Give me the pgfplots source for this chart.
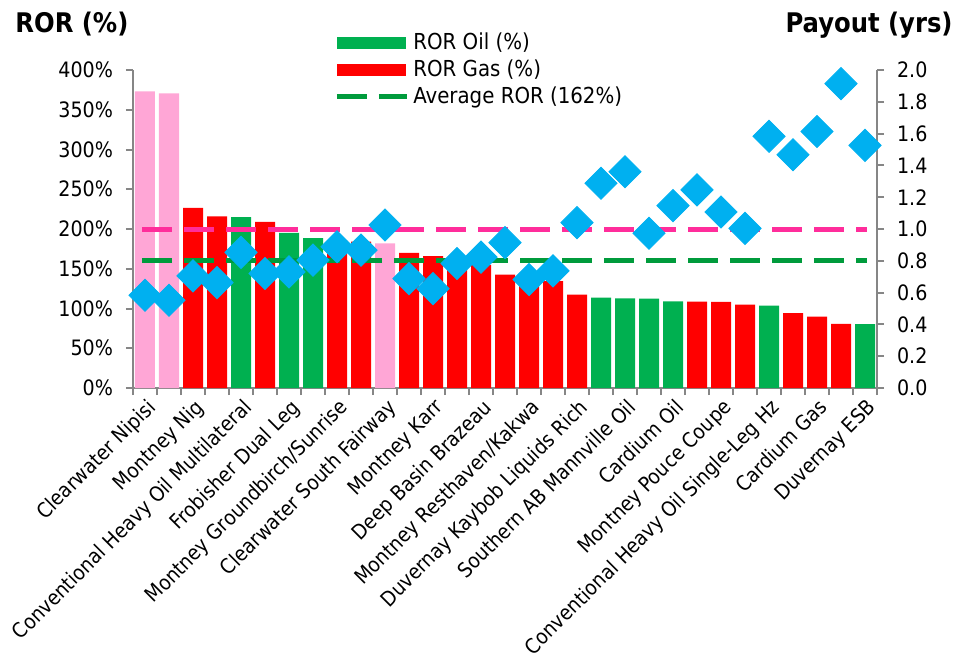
\documentclass[border=0pt]{standalone}
\usepackage{fontspec}
\setmainfont{DejaVu Sans Condensed}
\usepackage{pgfplots}
\pgfplotsset{compat=1.18}
\definecolor{oilgreen}{RGB}{0,176,80}
\definecolor{gasred}{RGB}{255,0,0}
\definecolor{pinkbar}{RGB}{255,166,214}
\definecolor{pinkline}{RGB}{255,45,155}
\definecolor{avggreen}{RGB}{0,155,60}
\definecolor{diamondblue}{RGB}{0,176,240}
\definecolor{axisgray}{RGB}{134,134,134}

\begin{document}
\begin{tikzpicture}
\useasboundingbox (-66.5pt,-138.5pt) rectangle (412pt,194pt);
\pgfplotsset{
  rorbase/.style={
    scale only axis, width=372pt, height=159pt,
    xmin=0.5, xmax=31.5,
    axis line style={axisgray, line width=1pt},
    tick style={axisgray, line width=1pt},
    tick align=outside,
    major tick length=3.5pt, minor tick length=3.5pt,
    tick label style={font=\fontsize{10.6}{12.5}\selectfont},
    clip=false,
  }
}
% left axis: ROR bars and reference lines
\begin{axis}[rorbase,
  ymin=0, ymax=400,
  axis y line*=left, axis x line*=bottom,
  ytick={0,50,...,400},
  yticklabels={0\%,50\%,100\%,150\%,200\%,250\%,300\%,350\%,400\%},
  yticklabel style={xshift=-3pt},
  xtick={1,3,...,31},
  xticklabels={Clearwater Nipisi, Montney Nig, Conventional Heavy Oil Multilateral,
    Frobisher Dual Leg, Montney Groundbirch/Sunrise, Clearwater South Fairway,
    Montney Karr, Deep Basin Brazeau, Montney Resthaven/Kakwa,
    Duvernay Kaybob Liquids Rich, Southern AB Mannville Oil, Cardium Oil,
    Montney Pouce Coupe, Conventional Heavy Oil Single-Leg Hz, Cardium Gas, Duvernay ESB},
  major x tick style={draw=none},
  minor xtick={0.5,1.5,...,31.5},
  xticklabel style={rotate=45, anchor=north east, inner sep=0.5pt, yshift=-0.5pt,
    font=\fontsize{10.3}{12}\selectfont},
  legend cell align=left,
  legend style={draw=none, fill=none, at={(0.262,1.142)}, anchor=north west,
    font=\fontsize{11}{13}\selectfont, row sep=-0.5pt,
    /tikz/every even column/.append style={column sep=3pt}},
]
\addplot[ybar, bar width=10pt, bar shift=0pt, fill=pinkbar, draw=none, forget plot]
  coordinates {(1,373) (2,370.5) (11,182)};
\addplot[ybar, bar width=10pt, bar shift=0pt, fill=oilgreen, draw=none,
  legend image code/.code={\fill[oilgreen] (0pt,-3pt) rectangle (34.5pt,3pt);}]
  coordinates {(5,215) (7,195) (8,188.6) (20,113.7) (21,112.8) (22,112.4) (23,109)
    (27,103.6) (31,80.4)};
\addlegendentry{ROR Oil (\%)}
\addplot[ybar, bar width=10pt, bar shift=0pt, fill=gasred, draw=none,
  legend image code/.code={\fill[gasred] (0pt,-3pt) rectangle (34.5pt,3pt);}]
  coordinates {(3,226.5) (4,216) (6,209) (9,186) (10,184) (12,170) (13,166) (14,160)
    (15,154.5) (16,142.5) (17,139) (18,134.5) (19,117.5) (24,108.6) (25,108.2)
    (26,104.8) (28,94.3) (29,89.7) (30,80.8)};
\addlegendentry{ROR Gas (\%)}
\addplot[pinkline, line width=2.5pt, dash pattern=on 15pt off 6pt, forget plot]
  coordinates {(0.875,200) (31.1,200)};
\addplot[avggreen, line width=2.5pt, dash pattern=on 15pt off 6pt,
  legend image code/.code={\draw[avggreen, line width=2.5pt, dash pattern=on 15pt off 6pt] (0pt,0pt) -- (35pt,0pt);}]
  coordinates {(0.875,160) (31.1,160)};
\addlegendentry{Average ROR (162\%)}
\end{axis}
% right axis: payout
\begin{axis}[rorbase,
  ymin=0, ymax=2,
  axis y line*=right, axis x line=none,
  ytick={0,0.2,0.4,0.6,0.8,1,1.2,1.4,1.6,1.8,2},
  yticklabels={0.0,0.2,0.4,0.6,0.8,1.0,1.2,1.4,1.6,1.8,2.0},
  yticklabel style={xshift=3pt},
]
\addplot[only marks, mark=square*, mark size=5.7pt,
  mark options={rotate=45, fill=diamondblue, draw=diamondblue}]
  coordinates {(1,0.583) (2,0.552) (3,0.705) (4,0.663) (5,0.853) (6,0.72) (7,0.73)
    (8,0.804) (9,0.888) (10,0.867) (11,1.025) (12,0.688) (13,0.625) (14,0.783)
    (15,0.823) (16,0.914) (17,0.682) (18,0.737) (19,1.04) (20,1.288) (21,1.36)
    (22,0.973) (23,1.147) (24,1.246) (25,1.107) (26,1.004) (27,1.583) (28,1.467)
    (29,1.613) (30,1.914) (31,1.526)};
\end{axis}
\node[anchor=base west, inner sep=0pt, font=\bfseries\fontsize{13.5}{16}\selectfont]
  at (-59pt,177.5pt) {ROR (\%)};
\node[anchor=base east, inner sep=0pt, font=\bfseries\fontsize{13.5}{16}\selectfont]
  at (410pt,177.5pt) {Payout (yrs)};
\end{tikzpicture}
\end{document}
